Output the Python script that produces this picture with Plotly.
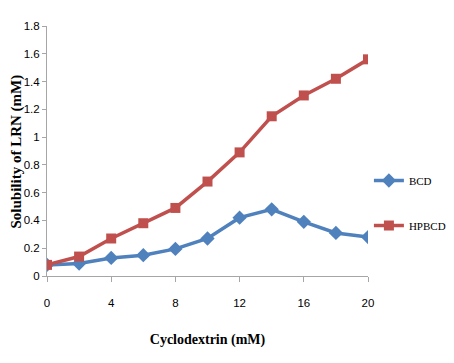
import plotly.graph_objects as go

x_vals = [0, 2, 4, 6, 8, 10, 12, 14, 16, 18, 20]
bcd = [0.08, 0.09, 0.13, 0.15, 0.195, 0.27, 0.42, 0.48, 0.39, 0.31, 0.28]
hpbcd = [0.08, 0.14, 0.27, 0.38, 0.49, 0.68, 0.89, 1.15, 1.30, 1.42, 1.56]
x_ticks = [0, 4, 8, 12, 16, 20]
y_ticks = [0, 0.2, 0.4, 0.6, 0.8, 1, 1.2, 1.4, 1.6, 1.8]
y_tick_text = ["0", "0.2", "0.4", "0.6", "0.8", "1", "1.2", "1.4", "1.6", "1.8"]

fig = go.Figure()
fig.add_trace(go.Scatter(x=x_vals, y=bcd, name="BCD", mode="lines+markers",
                         line=dict(color="#4F81BD", width=3.5),
                         marker=dict(symbol="diamond", size=11, color="#4F81BD"),
                         legendgroup="a"))
fig.add_trace(go.Scatter(x=x_vals, y=hpbcd, name="HPBCD", mode="lines+markers",
                         line=dict(color="#C0504D", width=3.5),
                         marker=dict(symbol="square", size=10, color="#C0504D"),
                         legendgroup="b"))

tick_font = dict(family="Liberation Sans, Arial, sans-serif", size=11.5, color="#000")

fig.update_layout(
    width=438, height=347,
    margin=dict(l=39, r=78, t=18, b=79),
    paper_bgcolor="white", plot_bgcolor="white",
    showlegend=True,
    legend=dict(xref="container", yref="container", x=0.824, y=0.438,
                xanchor="left", yanchor="middle",
                font=dict(family="Liberation Serif, Times New Roman, serif", size=11, color="#000"),
                tracegroupgap=26, itemwidth=30, bgcolor="rgba(0,0,0,0)"),
    xaxis=dict(range=[0, 20], tickvals=x_ticks, showgrid=False, zeroline=False,
               showline=True, linecolor="#A6A6A6", linewidth=1, automargin=False,
               ticks="outside", ticklen=5, tickcolor="#A6A6A6",
               tickfont=tick_font, ticklabelstandoff=11,
               title=dict(text="<b>Cyclodextrin (mM)</b>",
                          font=dict(family="Liberation Serif, Times New Roman, serif", size=14, color="#000"),
                          standoff=26)),
    yaxis=dict(range=[0, 1.8], tickvals=y_ticks, ticktext=y_tick_text, showgrid=False, zeroline=False,
               showline=True, linecolor="#A6A6A6", linewidth=1, automargin=False,
               ticks="outside", ticklen=4, tickcolor="#A6A6A6",
               tickfont=tick_font),
    annotations=[dict(text="<b>Solubility of LRN (mM)</b>", xref="paper", yref="paper",
                      x=-0.1215, y=0.5, xanchor="left", yanchor="middle", textangle=-90,
                      xshift=-2, showarrow=False,
                      font=dict(family="Liberation Serif, Times New Roman, serif", size=15, color="#000"))],
)

fig.write_html("out.html")
